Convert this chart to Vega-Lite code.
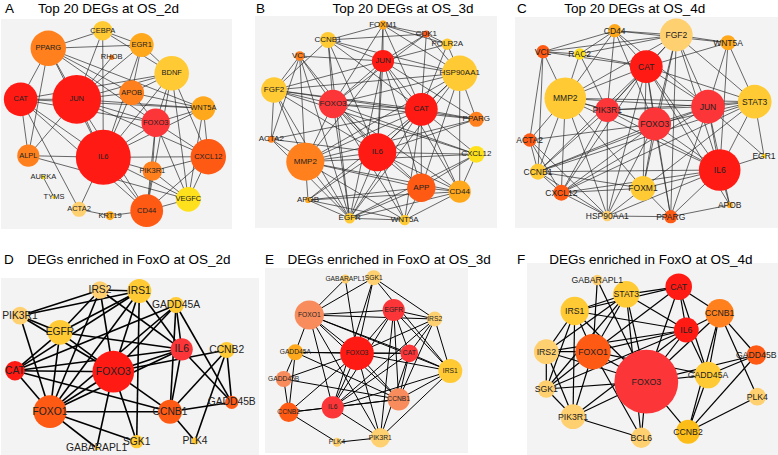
{
"$schema": "https://vega.github.io/schema/vega-lite/v6.json",
"padding": {"left": 1, "top": 0, "right": 0, "bottom": 0},
"background": "white",
"config": {
 "view": {"stroke": null, "fill": "#f3f3f3"},
 "text": {"font": "Liberation Sans"},
 "title": {"font": "Liberation Sans", "fontWeight": "normal", "fontSize": 13.5, "anchor": "start", "frame": "group", "color": "#000"}
},
"datasets": {
 "nA": [
  {"g":"CEBPA","x":101.7,"y":11.7,"d":22,"c":"g"},
  {"g":"PPARG","x":47.3,"y":29.3,"d":40,"c":"o"},
  {"g":"EGR1","x":140.7,"y":26,"d":27,"c":"a"},
  {"g":"RHOB","x":110.7,"y":38.3,"d":6,"c":"o"},
  {"g":"BDNF","x":170.7,"y":54.3,"d":39,"c":"g"},
  {"g":"CAT","x":19.7,"y":80.3,"d":38,"c":"r"},
  {"g":"JUN","x":75.7,"y":80.3,"d":55,"c":"r"},
  {"g":"APOB","x":130.7,"y":73.7,"d":28,"c":"o"},
  {"g":"WNT5A","x":202.3,"y":89.3,"d":27,"c":"a"},
  {"g":"FOXO3","x":154.7,"y":103.7,"d":32,"c":"k"},
  {"g":"ALPL","x":27.3,"y":136.7,"d":25,"c":"o"},
  {"g":"IL6","x":102.3,"y":138.3,"d":62,"c":"r"},
  {"g":"CXCL12","x":207.3,"y":137.7,"d":40,"c":"d"},
  {"g":"PIK3R1","x":151.3,"y":152,"d":22,"c":"o"},
  {"g":"AURKA","x":42.3,"y":158.3,"d":5,"c":"y"},
  {"g":"TYMS","x":53,"y":178.3,"d":4,"c":"y"},
  {"g":"VEGFC","x":187.3,"y":180.3,"d":28,"c":"y"},
  {"g":"ACTA2","x":78,"y":190.3,"d":17,"c":"p"},
  {"g":"KRT19","x":109,"y":196.7,"d":10,"c":"a"},
  {"g":"CD44","x":145.7,"y":191.7,"d":37,"c":"d"}
 ],
 "eA": [
  {"s":"PPARG","t":"CEBPA"},{"s":"PPARG","t":"EGR1"},{"s":"PPARG","t":"JUN"},{"s":"PPARG","t":"CAT"},{"s":"PPARG","t":"ALPL"},{"s":"PPARG","t":"IL6"},{"s":"PPARG","t":"APOB"},{"s":"PPARG","t":"FOXO3"},{"s":"PPARG","t":"WNT5A"},
  {"s":"CEBPA","t":"EGR1"},{"s":"CEBPA","t":"JUN"},{"s":"CEBPA","t":"IL6"},{"s":"CEBPA","t":"BDNF"},
  {"s":"EGR1","t":"JUN"},{"s":"EGR1","t":"APOB"},{"s":"EGR1","t":"IL6"},{"s":"EGR1","t":"BDNF"},
  {"s":"RHOB","t":"JUN"},
  {"s":"BDNF","t":"JUN"},{"s":"BDNF","t":"APOB"},{"s":"BDNF","t":"IL6"},{"s":"BDNF","t":"FOXO3"},{"s":"BDNF","t":"CXCL12"},{"s":"BDNF","t":"VEGFC"},{"s":"BDNF","t":"CD44"},{"s":"BDNF","t":"CAT"},
  {"s":"CAT","t":"JUN"},{"s":"CAT","t":"IL6"},{"s":"CAT","t":"ALPL"},{"s":"CAT","t":"FOXO3"},{"s":"CAT","t":"WNT5A"},{"s":"CAT","t":"CD44"},{"s":"CAT","t":"ACTA2"},
  {"s":"JUN","t":"IL6"},{"s":"JUN","t":"APOB"},{"s":"JUN","t":"FOXO3"},{"s":"JUN","t":"WNT5A"},{"s":"JUN","t":"CXCL12"},{"s":"JUN","t":"ALPL"},{"s":"JUN","t":"CD44"},
  {"s":"APOB","t":"IL6"},{"s":"APOB","t":"FOXO3"},{"s":"APOB","t":"WNT5A"},
  {"s":"WNT5A","t":"FOXO3"},{"s":"WNT5A","t":"CXCL12"},{"s":"WNT5A","t":"VEGFC"},{"s":"WNT5A","t":"IL6"},
  {"s":"FOXO3","t":"IL6"},{"s":"FOXO3","t":"PIK3R1"},{"s":"FOXO3","t":"CXCL12"},{"s":"FOXO3","t":"CD44"},{"s":"FOXO3","t":"VEGFC"},
  {"s":"ALPL","t":"IL6"},{"s":"ALPL","t":"VEGFC"},
  {"s":"IL6","t":"CXCL12"},{"s":"IL6","t":"CD44"},{"s":"IL6","t":"VEGFC"},{"s":"IL6","t":"ACTA2"},{"s":"IL6","t":"PIK3R1"},
  {"s":"CXCL12","t":"CD44"},{"s":"CXCL12","t":"VEGFC"},{"s":"CXCL12","t":"PIK3R1"},
  {"s":"PIK3R1","t":"CD44"},{"s":"PIK3R1","t":"VEGFC"},
  {"s":"AURKA","t":"TYMS"},{"s":"ACTA2","t":"KRT19"},{"s":"KRT19","t":"CD44"},{"s":"CD44","t":"VEGFC"}
 ],
 "nB": [
  {"g":"FOXM1","x":128,"y":9,"d":10,"c":"a"},
  {"g":"CDK1","x":171.3,"y":18,"d":8,"c":"d"},
  {"g":"POLR2A","x":192.3,"y":28.3,"d":13,"c":"g"},
  {"g":"CCNB1","x":73,"y":24,"d":18,"c":"g"},
  {"g":"VCL","x":44.7,"y":40,"d":11,"c":"o"},
  {"g":"JUN","x":128,"y":45,"d":25,"c":"r"},
  {"g":"HSP90AA1","x":204.7,"y":57.3,"d":40,"c":"g"},
  {"g":"FGF2","x":19,"y":74,"d":29,"c":"g"},
  {"g":"FOXO3","x":78,"y":88,"d":32,"c":"k"},
  {"g":"CAT","x":166.3,"y":93.3,"d":37,"c":"r"},
  {"g":"PPARG","x":221.3,"y":103.3,"d":17,"c":"o"},
  {"g":"ACTA2","x":16.3,"y":123.3,"d":8,"c":"o"},
  {"g":"IL6","x":122.3,"y":136.3,"d":43,"c":"r"},
  {"g":"CXCL12","x":221.3,"y":138.3,"d":19,"c":"y"},
  {"g":"MMP2","x":50.3,"y":145.7,"d":43,"c":"o"},
  {"g":"APP","x":166.3,"y":171.7,"d":32,"c":"d"},
  {"g":"CD44","x":204.7,"y":175.7,"d":25,"c":"a"},
  {"g":"APOB","x":53,"y":184,"d":7,"c":"a"},
  {"g":"EGFR","x":94.7,"y":202.3,"d":12,"c":"g"},
  {"g":"WNT5A","x":149.7,"y":204,"d":12,"c":"g"}
 ],
 "eB": [
  {"s":"IL6","t":"JUN"},{"s":"IL6","t":"CAT"},{"s":"IL6","t":"FOXO3"},{"s":"IL6","t":"MMP2"},{"s":"IL6","t":"APP"},{"s":"IL6","t":"EGFR"},{"s":"IL6","t":"WNT5A"},{"s":"IL6","t":"CD44"},{"s":"IL6","t":"CXCL12"},{"s":"IL6","t":"PPARG"},{"s":"IL6","t":"HSP90AA1"},{"s":"IL6","t":"FGF2"},{"s":"IL6","t":"CCNB1"},{"s":"IL6","t":"FOXM1"},{"s":"IL6","t":"VCL"},{"s":"IL6","t":"ACTA2"},{"s":"IL6","t":"APOB"},
  {"s":"CAT","t":"JUN"},{"s":"CAT","t":"FOXO3"},{"s":"CAT","t":"HSP90AA1"},{"s":"CAT","t":"PPARG"},{"s":"CAT","t":"CXCL12"},{"s":"CAT","t":"APP"},{"s":"CAT","t":"CD44"},{"s":"CAT","t":"MMP2"},{"s":"CAT","t":"EGFR"},{"s":"CAT","t":"WNT5A"},{"s":"CAT","t":"FGF2"},{"s":"CAT","t":"CCNB1"},{"s":"CAT","t":"FOXM1"},{"s":"CAT","t":"CDK1"},{"s":"CAT","t":"POLR2A"},{"s":"CAT","t":"APOB"},{"s":"CAT","t":"ACTA2"},
  {"s":"JUN","t":"FOXO3"},{"s":"JUN","t":"HSP90AA1"},{"s":"JUN","t":"FOXM1"},{"s":"JUN","t":"CDK1"},{"s":"JUN","t":"CCNB1"},{"s":"JUN","t":"FGF2"},{"s":"JUN","t":"MMP2"},{"s":"JUN","t":"APP"},{"s":"JUN","t":"EGFR"},{"s":"JUN","t":"CD44"},{"s":"JUN","t":"PPARG"},{"s":"JUN","t":"VCL"},{"s":"JUN","t":"POLR2A"},
  {"s":"FOXO3","t":"CCNB1"},{"s":"FOXO3","t":"FGF2"},{"s":"FOXO3","t":"MMP2"},{"s":"FOXO3","t":"HSP90AA1"},{"s":"FOXO3","t":"CXCL12"},{"s":"FOXO3","t":"PPARG"},{"s":"FOXO3","t":"APP"},{"s":"FOXO3","t":"EGFR"},{"s":"FOXO3","t":"WNT5A"},{"s":"FOXO3","t":"CD44"},{"s":"FOXO3","t":"FOXM1"},{"s":"FOXO3","t":"CDK1"},{"s":"FOXO3","t":"VCL"},
  {"s":"HSP90AA1","t":"FOXM1"},{"s":"HSP90AA1","t":"CDK1"},{"s":"HSP90AA1","t":"POLR2A"},{"s":"HSP90AA1","t":"FGF2"},{"s":"HSP90AA1","t":"PPARG"},{"s":"HSP90AA1","t":"CD44"},{"s":"HSP90AA1","t":"EGFR"},{"s":"HSP90AA1","t":"MMP2"},{"s":"HSP90AA1","t":"APP"},{"s":"HSP90AA1","t":"CCNB1"},
  {"s":"MMP2","t":"FGF2"},{"s":"MMP2","t":"ACTA2"},{"s":"MMP2","t":"VCL"},{"s":"MMP2","t":"APOB"},{"s":"MMP2","t":"EGFR"},{"s":"MMP2","t":"WNT5A"},{"s":"MMP2","t":"APP"},{"s":"MMP2","t":"CD44"},{"s":"MMP2","t":"CXCL12"},{"s":"MMP2","t":"PPARG"},
  {"s":"FGF2","t":"CCNB1"},{"s":"FGF2","t":"VCL"},{"s":"FGF2","t":"ACTA2"},{"s":"FGF2","t":"EGFR"},{"s":"FGF2","t":"CXCL12"},{"s":"FGF2","t":"PPARG"},
  {"s":"EGFR","t":"APOB"},{"s":"EGFR","t":"ACTA2"},{"s":"EGFR","t":"WNT5A"},{"s":"EGFR","t":"APP"},{"s":"EGFR","t":"CD44"},{"s":"EGFR","t":"CXCL12"},{"s":"EGFR","t":"VCL"},{"s":"EGFR","t":"CCNB1"},
  {"s":"APP","t":"WNT5A"},{"s":"APP","t":"CD44"},{"s":"APP","t":"CXCL12"},{"s":"APP","t":"APOB"},
  {"s":"CD44","t":"CXCL12"},{"s":"CD44","t":"WNT5A"},
  {"s":"CCNB1","t":"FOXM1"},{"s":"CCNB1","t":"CDK1"},{"s":"FOXM1","t":"CDK1"},{"s":"FOXM1","t":"POLR2A"},{"s":"CDK1","t":"POLR2A"},
  {"s":"APOB","t":"WNT5A"},{"s":"APOB","t":"CD44"},{"s":"VCL","t":"ACTA2"}
 ],
 "nC": [
  {"g":"CD44","x":99.7,"y":13.7,"d":15,"c":"a"},
  {"g":"FGF2","x":161.3,"y":18,"d":37,"c":"p"},
  {"g":"WNT5A","x":213,"y":25.7,"d":17,"c":"a"},
  {"g":"VCL","x":28,"y":34.7,"d":15,"c":"d"},
  {"g":"RAC2","x":64.7,"y":37,"d":13,"c":"y"},
  {"g":"CAT","x":131.3,"y":49.7,"d":37,"c":"r"},
  {"g":"MMP2","x":50.3,"y":81.3,"d":47,"c":"g"},
  {"g":"PIK3R1","x":92.3,"y":93,"d":27,"c":"k"},
  {"g":"JUN","x":193,"y":89.7,"d":38,"c":"k"},
  {"g":"STAT3","x":239.7,"y":84.7,"d":38,"c":"g"},
  {"g":"FOXO3","x":139.7,"y":107,"d":37,"c":"k"},
  {"g":"ACTA2","x":14.7,"y":123,"d":15,"c":"d"},
  {"g":"IL6","x":204.7,"y":153,"d":47,"c":"r"},
  {"g":"EGR1","x":249,"y":139,"d":5,"c":"y"},
  {"g":"CCNB1","x":23,"y":154.7,"d":18,"c":"g"},
  {"g":"FOXM1","x":128,"y":171.3,"d":28,"c":"g"},
  {"g":"CXCL12","x":46.3,"y":175.7,"d":18,"c":"d"},
  {"g":"APOB","x":214.7,"y":188,"d":7,"c":"a"},
  {"g":"HSP90AA1","x":92.3,"y":199,"d":12,"c":"p"},
  {"g":"PPARG","x":155.7,"y":199.7,"d":15,"c":"d"}
 ],
 "eC": [
  {"s":"CAT","t":"CD44"},{"s":"CAT","t":"FGF2"},{"s":"CAT","t":"VCL"},{"s":"CAT","t":"RAC2"},{"s":"CAT","t":"MMP2"},{"s":"CAT","t":"PIK3R1"},{"s":"CAT","t":"JUN"},{"s":"CAT","t":"STAT3"},{"s":"CAT","t":"FOXO3"},{"s":"CAT","t":"IL6"},{"s":"CAT","t":"FOXM1"},{"s":"CAT","t":"PPARG"},{"s":"CAT","t":"HSP90AA1"},{"s":"CAT","t":"CCNB1"},{"s":"CAT","t":"CXCL12"},{"s":"CAT","t":"WNT5A"},{"s":"CAT","t":"APOB"},
  {"s":"IL6","t":"JUN"},{"s":"IL6","t":"STAT3"},{"s":"IL6","t":"FOXO3"},{"s":"IL6","t":"PIK3R1"},{"s":"IL6","t":"MMP2"},{"s":"IL6","t":"FGF2"},{"s":"IL6","t":"WNT5A"},{"s":"IL6","t":"EGR1"},{"s":"IL6","t":"APOB"},{"s":"IL6","t":"PPARG"},{"s":"IL6","t":"FOXM1"},{"s":"IL6","t":"CXCL12"},{"s":"IL6","t":"CCNB1"},{"s":"IL6","t":"HSP90AA1"},
  {"s":"JUN","t":"FGF2"},{"s":"JUN","t":"STAT3"},{"s":"JUN","t":"FOXO3"},{"s":"JUN","t":"PIK3R1"},{"s":"JUN","t":"MMP2"},{"s":"JUN","t":"CD44"},{"s":"JUN","t":"WNT5A"},{"s":"JUN","t":"EGR1"},{"s":"JUN","t":"CCNB1"},{"s":"JUN","t":"CXCL12"},{"s":"JUN","t":"PPARG"},{"s":"JUN","t":"APOB"},
  {"s":"FOXO3","t":"PIK3R1"},{"s":"FOXO3","t":"MMP2"},{"s":"FOXO3","t":"FGF2"},{"s":"FOXO3","t":"STAT3"},{"s":"FOXO3","t":"CCNB1"},{"s":"FOXO3","t":"CXCL12"},{"s":"FOXO3","t":"FOXM1"},{"s":"FOXO3","t":"HSP90AA1"},{"s":"FOXO3","t":"PPARG"},{"s":"FOXO3","t":"CD44"},{"s":"FOXO3","t":"ACTA2"},
  {"s":"MMP2","t":"CD44"},{"s":"MMP2","t":"VCL"},{"s":"MMP2","t":"RAC2"},{"s":"MMP2","t":"FGF2"},{"s":"MMP2","t":"PIK3R1"},{"s":"MMP2","t":"ACTA2"},{"s":"MMP2","t":"CCNB1"},{"s":"MMP2","t":"CXCL12"},{"s":"MMP2","t":"HSP90AA1"},{"s":"MMP2","t":"FOXM1"},{"s":"MMP2","t":"STAT3"},
  {"s":"PIK3R1","t":"CD44"},{"s":"PIK3R1","t":"FGF2"},{"s":"PIK3R1","t":"RAC2"},{"s":"PIK3R1","t":"HSP90AA1"},{"s":"PIK3R1","t":"CCNB1"},{"s":"PIK3R1","t":"CXCL12"},{"s":"PIK3R1","t":"STAT3"},
  {"s":"STAT3","t":"FGF2"},{"s":"STAT3","t":"WNT5A"},{"s":"STAT3","t":"EGR1"},{"s":"STAT3","t":"CCNB1"},{"s":"STAT3","t":"CXCL12"},{"s":"STAT3","t":"FOXM1"},
  {"s":"FGF2","t":"CD44"},{"s":"FGF2","t":"WNT5A"},{"s":"FGF2","t":"VCL"},{"s":"FGF2","t":"RAC2"},{"s":"FGF2","t":"PPARG"},{"s":"FGF2","t":"FOXM1"},
  {"s":"VCL","t":"CD44"},{"s":"VCL","t":"RAC2"},{"s":"VCL","t":"ACTA2"},{"s":"VCL","t":"CCNB1"},
  {"s":"CD44","t":"WNT5A"},{"s":"CD44","t":"RAC2"},
  {"s":"ACTA2","t":"CCNB1"},{"s":"ACTA2","t":"CXCL12"},{"s":"ACTA2","t":"HSP90AA1"},
  {"s":"CCNB1","t":"CXCL12"},{"s":"CCNB1","t":"HSP90AA1"},{"s":"CCNB1","t":"FOXM1"},
  {"s":"CXCL12","t":"HSP90AA1"},{"s":"CXCL12","t":"FOXM1"},
  {"s":"FOXM1","t":"HSP90AA1"},{"s":"FOXM1","t":"PPARG"},
  {"s":"PPARG","t":"APOB"},{"s":"PPARG","t":"HSP90AA1"}
 ],
 "nD": [
  {"g":"IRS2","x":99,"y":12,"d":20,"c":"p"},
  {"g":"IRS1","x":138.3,"y":13,"d":27,"c":"g"},
  {"g":"GADD45A","x":175,"y":27,"d":18,"c":"g"},
  {"g":"PIK3R1","x":19,"y":37.7,"d":20,"c":"p"},
  {"g":"EGFR","x":59,"y":54.3,"d":28,"c":"g"},
  {"g":"IL6","x":180.7,"y":71.3,"d":25,"c":"k"},
  {"g":"CCNB2","x":225.7,"y":72,"d":18,"c":"g"},
  {"g":"CAT","x":14,"y":92.7,"d":22,"c":"r"},
  {"g":"FOXO3","x":112.3,"y":93.7,"d":47,"c":"r"},
  {"g":"GADD45B","x":230.7,"y":124.3,"d":15,"c":"d"},
  {"g":"FOXO1","x":49,"y":133.7,"d":37,"c":"d"},
  {"g":"CCNB1","x":169,"y":133.7,"d":27,"c":"d"},
  {"g":"SGK1","x":135.7,"y":163.7,"d":15,"c":"g"},
  {"g":"PLK4","x":194,"y":163,"d":8,"c":"g"},
  {"g":"GABARAPL1","x":95.7,"y":170,"d":5,"c":"g"}
 ],
 "eD": [
  {"s":"IRS2","t":"IRS1"},{"s":"IRS2","t":"PIK3R1"},{"s":"IRS2","t":"EGFR"},{"s":"IRS2","t":"FOXO3"},{"s":"IRS2","t":"FOXO1"},{"s":"IRS2","t":"IL6"},
  {"s":"IRS1","t":"PIK3R1"},{"s":"IRS1","t":"EGFR"},{"s":"IRS1","t":"FOXO3"},{"s":"IRS1","t":"FOXO1"},{"s":"IRS1","t":"SGK1"},{"s":"IRS1","t":"CAT"},{"s":"IRS1","t":"IL6"},
  {"s":"GADD45A","t":"FOXO3"},{"s":"GADD45A","t":"FOXO1"},{"s":"GADD45A","t":"CCNB1"},{"s":"GADD45A","t":"GADD45B"},{"s":"GADD45A","t":"CAT"},{"s":"GADD45A","t":"IL6"},
  {"s":"PIK3R1","t":"EGFR"},{"s":"PIK3R1","t":"FOXO3"},{"s":"PIK3R1","t":"FOXO1"},
  {"s":"EGFR","t":"IL6"},{"s":"EGFR","t":"FOXO3"},{"s":"EGFR","t":"FOXO1"},{"s":"EGFR","t":"CAT"},
  {"s":"IL6","t":"FOXO3"},{"s":"IL6","t":"FOXO1"},{"s":"IL6","t":"CCNB1"},{"s":"IL6","t":"GADD45B"},{"s":"IL6","t":"CAT"},
  {"s":"CCNB2","t":"FOXO3"},{"s":"CCNB2","t":"CCNB1"},{"s":"CCNB2","t":"GADD45B"},{"s":"CCNB2","t":"PLK4"},
  {"s":"CAT","t":"FOXO3"},{"s":"CAT","t":"FOXO1"},{"s":"CAT","t":"CCNB1"},
  {"s":"FOXO3","t":"FOXO1"},{"s":"FOXO3","t":"SGK1"},{"s":"FOXO3","t":"CCNB1"},{"s":"FOXO3","t":"GABARAPL1"},
  {"s":"FOXO1","t":"SGK1"},{"s":"FOXO1","t":"GABARAPL1"},{"s":"FOXO1","t":"CCNB1"},
  {"s":"CCNB1","t":"GADD45B"},{"s":"CCNB1","t":"PLK4"}
 ],
 "nE": [
  {"g":"GABARAPL1","x":80.3,"y":11,"d":10,"c":"p"},
  {"g":"SGK1","x":108.7,"y":9.7,"d":17,"c":"p"},
  {"g":"EGFR","x":128.7,"y":42,"d":25,"c":"k"},
  {"g":"FOXO1","x":44.3,"y":47,"d":33,"c":"s"},
  {"g":"IRS2","x":169.7,"y":51,"d":17,"c":"p"},
  {"g":"GADD45A","x":30.3,"y":84.3,"d":18,"c":"a"},
  {"g":"FOXO3","x":92,"y":85.3,"d":38,"c":"r"},
  {"g":"CAT","x":144.3,"y":85.3,"d":20,"c":"k"},
  {"g":"IRS1","x":185.3,"y":103,"d":27,"c":"g"},
  {"g":"GADD45B","x":18.7,"y":111,"d":18,"c":"s"},
  {"g":"CCNB1","x":133.7,"y":131.3,"d":25,"c":"s"},
  {"g":"IL6","x":67.7,"y":139.3,"d":25,"c":"k"},
  {"g":"CCNB2","x":23.7,"y":144.3,"d":22,"c":"d"},
  {"g":"PIK3R1","x":115.3,"y":169.7,"d":22,"c":"p"},
  {"g":"PLK4","x":72,"y":174.3,"d":10,"c":"p"}
 ],
 "eE": [
  {"s":"GABARAPL1","t":"FOXO3"},{"s":"GABARAPL1","t":"FOXO1"},
  {"s":"SGK1","t":"FOXO3"},{"s":"SGK1","t":"FOXO1"},{"s":"SGK1","t":"IRS1"},{"s":"SGK1","t":"IL6"},{"s":"SGK1","t":"IRS2"},
  {"s":"EGFR","t":"FOXO1"},{"s":"EGFR","t":"FOXO3"},{"s":"EGFR","t":"IRS2"},{"s":"EGFR","t":"IRS1"},{"s":"EGFR","t":"CAT"},{"s":"EGFR","t":"IL6"},{"s":"EGFR","t":"CCNB1"},{"s":"EGFR","t":"PIK3R1"},
  {"s":"FOXO1","t":"FOXO3"},{"s":"FOXO1","t":"IRS2"},{"s":"FOXO1","t":"CAT"},{"s":"FOXO1","t":"IRS1"},{"s":"FOXO1","t":"GADD45A"},{"s":"FOXO1","t":"IL6"},{"s":"FOXO1","t":"CCNB1"},{"s":"FOXO1","t":"PIK3R1"},
  {"s":"IRS2","t":"CAT"},{"s":"IRS2","t":"IRS1"},{"s":"IRS2","t":"FOXO3"},{"s":"IRS2","t":"CCNB1"},{"s":"IRS2","t":"IL6"},
  {"s":"GADD45A","t":"FOXO3"},{"s":"GADD45A","t":"CAT"},{"s":"GADD45A","t":"GADD45B"},{"s":"GADD45A","t":"CCNB2"},{"s":"GADD45A","t":"CCNB1"},
  {"s":"FOXO3","t":"CAT"},{"s":"FOXO3","t":"IRS1"},{"s":"FOXO3","t":"IL6"},{"s":"FOXO3","t":"CCNB1"},{"s":"FOXO3","t":"PIK3R1"},{"s":"FOXO3","t":"GADD45B"},{"s":"FOXO3","t":"CCNB2"},
  {"s":"CAT","t":"IRS1"},{"s":"CAT","t":"IL6"},{"s":"CAT","t":"CCNB1"},{"s":"CAT","t":"PIK3R1"},
  {"s":"IRS1","t":"CCNB1"},{"s":"IRS1","t":"PIK3R1"},{"s":"IRS1","t":"IL6"},
  {"s":"GADD45B","t":"CCNB2"},{"s":"GADD45B","t":"CCNB1"},
  {"s":"CCNB1","t":"IL6"},{"s":"CCNB1","t":"CCNB2"},
  {"s":"IL6","t":"CCNB2"},{"s":"IL6","t":"PIK3R1"},
  {"s":"CCNB2","t":"PLK4"},{"s":"PLK4","t":"PIK3R1"}
 ],
 "nF": [
  {"g":"GABARAPL1","x":70.3,"y":17,"d":12,"c":"p"},
  {"g":"STAT3","x":99.3,"y":31.3,"d":30,"c":"g"},
  {"g":"CAT","x":151.7,"y":23.7,"d":30,"c":"r"},
  {"g":"IRS1","x":47.7,"y":48,"d":32,"c":"g"},
  {"g":"CCNB1","x":192.7,"y":50.3,"d":32,"c":"o"},
  {"g":"IL6","x":159.3,"y":67,"d":28,"c":"r"},
  {"g":"IRS2","x":19.3,"y":88.7,"d":28,"c":"p"},
  {"g":"FOXO1","x":66,"y":88.7,"d":40,"c":"d"},
  {"g":"GADD45B","x":229.3,"y":92,"d":22,"c":"d"},
  {"g":"FOXO3","x":119.3,"y":118.7,"d":72,"c":"k"},
  {"g":"GADD45A","x":181,"y":112,"d":30,"c":"g"},
  {"g":"SGK1","x":19.3,"y":126,"d":20,"c":"p"},
  {"g":"PLK4","x":230.3,"y":133.7,"d":20,"c":"p"},
  {"g":"PIK3R1","x":46,"y":153.7,"d":28,"c":"p"},
  {"g":"CCNB2","x":161,"y":168.7,"d":27,"c":"m"},
  {"g":"BCL6","x":114.3,"y":174.7,"d":23,"c":"p"}
 ],
 "eF": [
  {"s":"GABARAPL1","t":"FOXO1"},{"s":"GABARAPL1","t":"FOXO3"},
  {"s":"STAT3","t":"CAT"},{"s":"STAT3","t":"IRS1"},{"s":"STAT3","t":"FOXO1"},{"s":"STAT3","t":"FOXO3"},{"s":"STAT3","t":"IL6"},{"s":"STAT3","t":"BCL6"},{"s":"STAT3","t":"IRS2"},{"s":"STAT3","t":"SGK1"},
  {"s":"CAT","t":"IL6"},{"s":"CAT","t":"CCNB1"},{"s":"CAT","t":"FOXO3"},{"s":"CAT","t":"GADD45A"},{"s":"CAT","t":"IRS1"},{"s":"CAT","t":"FOXO1"},
  {"s":"IRS1","t":"IL6"},{"s":"IRS1","t":"FOXO1"},{"s":"IRS1","t":"FOXO3"},{"s":"IRS1","t":"IRS2"},{"s":"IRS1","t":"SGK1"},{"s":"IRS1","t":"PIK3R1"},
  {"s":"CCNB1","t":"IL6"},{"s":"CCNB1","t":"FOXO3"},{"s":"CCNB1","t":"GADD45B"},{"s":"CCNB1","t":"GADD45A"},{"s":"CCNB1","t":"CCNB2"},{"s":"CCNB1","t":"PLK4"},
  {"s":"IL6","t":"FOXO1"},{"s":"IL6","t":"FOXO3"},{"s":"IL6","t":"GADD45A"},{"s":"IL6","t":"IRS2"},{"s":"IL6","t":"SGK1"},{"s":"IL6","t":"PIK3R1"},
  {"s":"IRS2","t":"FOXO1"},{"s":"IRS2","t":"FOXO3"},{"s":"IRS2","t":"SGK1"},{"s":"IRS2","t":"PIK3R1"},
  {"s":"FOXO1","t":"FOXO3"},{"s":"FOXO1","t":"SGK1"},{"s":"FOXO1","t":"PIK3R1"},{"s":"FOXO1","t":"BCL6"},{"s":"FOXO1","t":"GADD45A"},
  {"s":"GADD45B","t":"GADD45A"},{"s":"GADD45B","t":"CCNB2"},{"s":"GADD45B","t":"FOXO3"},
  {"s":"FOXO3","t":"GADD45A"},{"s":"FOXO3","t":"SGK1"},{"s":"FOXO3","t":"PIK3R1"},{"s":"FOXO3","t":"BCL6"},{"s":"FOXO3","t":"CCNB2"},
  {"s":"GADD45A","t":"CCNB2"},{"s":"SGK1","t":"PIK3R1"},{"s":"PLK4","t":"CCNB2"},{"s":"PIK3R1","t":"BCL6"}
 ]
},
"spacing": 22,
"vconcat": [
 {"spacing": 23, "hconcat": [
  {"spacing": 0, "vconcat": [
   {"width": 1, "height": 1, "data": {"values": []}, "mark": "point", "view": {"fill": "white", "stroke": null}},
   {"width": 231, "height": 210,
   "title": {"text": "A\u2002\u2002\u2002\u00a0Top 20 DEGs at OS_2d", "offset": 4, "dx": 4},
   "encoding": {"x": {"field": "x", "type": "quantitative", "scale": {"domain": [0, 231], "nice": false, "zero": false}, "axis": null},
                "y": {"field": "y", "type": "quantitative", "scale": {"domain": [0, 210], "nice": false, "zero": false, "reverse": true}, "axis": null}},
   "layer": [
    {"data": {"name": "eA"}, "transform": [{"lookup": "s", "from": {"data": {"name": "nA"}, "key": "g", "fields": ["x", "y"]}, "as": ["x", "y"]}, {"lookup": "t", "from": {"data": {"name": "nA"}, "key": "g", "fields": ["x", "y"]}, "as": ["x2", "y2"]}],
     "mark": {"type": "rule", "stroke": "#2a2a2a", "strokeWidth": 0.7, "clip": true}, "encoding": {"x2": {"field": "x2"}, "y2": {"field": "y2"}}},
    {"data": {"name": "nA"}, "mark": {"type": "circle", "opacity": 1, "clip": true},
     "encoding": {"size": {"field": "d", "type": "quantitative", "scale": {"type": "pow", "exponent": 2, "domain": [0, 100], "range": [0, 7854]}, "legend": null},
                  "color": {"field": "c", "type": "nominal", "scale": {"domain": ["y","g","p","a","m","o","d","r","k","s"], "range": ["#ffe01c","#ffca33","#ffd070","#ffa81c","#fdbd18","#ff801c","#ff5a14","#ff1a14","#fb3538","#f98c5c"]}, "legend": null}}},
    {"data": {"name": "nA"}, "mark": {"type": "text", "fontSize": 7.5, "color": "#222"}, "encoding": {"text": {"field": "g"}}}
   ]}]},
  {"spacing": 18, "hconcat": [
   {"spacing": 0, "vconcat": [
    {"width": 1, "height": 1, "data": {"values": []}, "mark": "point", "view": {"fill": "white", "stroke": null}},
    {"width": 242, "height": 212,
    "title": {"text": "B\u2002\u2002\u2002\u2002\u2002\u2002\u2002\u2002\u2002\u2002Top 20 DEGs at OS_3d", "offset": 1, "dx": 1},
    "encoding": {"x": {"field": "x", "type": "quantitative", "scale": {"domain": [0, 242], "nice": false, "zero": false}, "axis": null},
                 "y": {"field": "y", "type": "quantitative", "scale": {"domain": [0, 212], "nice": false, "zero": false, "reverse": true}, "axis": null}},
    "layer": [
     {"data": {"name": "eB"}, "transform": [{"lookup": "s", "from": {"data": {"name": "nB"}, "key": "g", "fields": ["x", "y"]}, "as": ["x", "y"]}, {"lookup": "t", "from": {"data": {"name": "nB"}, "key": "g", "fields": ["x", "y"]}, "as": ["x2", "y2"]}],
      "mark": {"type": "rule", "stroke": "#2a2a2a", "strokeWidth": 0.7, "clip": true}, "encoding": {"x2": {"field": "x2"}, "y2": {"field": "y2"}}},
     {"data": {"name": "nB"}, "mark": {"type": "circle", "opacity": 1, "clip": true},
      "encoding": {"size": {"field": "d", "type": "quantitative", "scale": {"type": "pow", "exponent": 2, "domain": [0, 100], "range": [0, 7854]}, "legend": null},
                   "color": {"field": "c", "type": "nominal", "scale": {"domain": ["y","g","p","a","m","o","d","r","k","s"], "range": ["#ffe01c","#ffca33","#ffd070","#ffa81c","#fdbd18","#ff801c","#ff5a14","#ff1a14","#fb3538","#f98c5c"]}, "legend": null}}},
     {"data": {"name": "nB"}, "mark": {"type": "text", "fontSize": 8, "color": "#222"}, "encoding": {"text": {"field": "g"}}}
    ]}]},
   {"spacing": 0, "vconcat": [
    {"width": 1, "height": 1, "data": {"values": []}, "mark": "point", "view": {"fill": "white", "stroke": null}},
    {"width": 263, "height": 211,
    "title": {"text": "C\u2002\u2002\u2002\u2002\u2002\u00a0Top 20 DEGs at OS_4d", "offset": 2, "dx": 2},
    "encoding": {"x": {"field": "x", "type": "quantitative", "scale": {"domain": [0, 263], "nice": false, "zero": false}, "axis": null},
                 "y": {"field": "y", "type": "quantitative", "scale": {"domain": [0, 211], "nice": false, "zero": false, "reverse": true}, "axis": null}},
    "layer": [
     {"data": {"name": "eC"}, "transform": [{"lookup": "s", "from": {"data": {"name": "nC"}, "key": "g", "fields": ["x", "y"]}, "as": ["x", "y"]}, {"lookup": "t", "from": {"data": {"name": "nC"}, "key": "g", "fields": ["x", "y"]}, "as": ["x2", "y2"]}],
      "mark": {"type": "rule", "stroke": "#2a2a2a", "strokeWidth": 0.7, "clip": true}, "encoding": {"x2": {"field": "x2"}, "y2": {"field": "y2"}}},
     {"data": {"name": "nC"}, "mark": {"type": "circle", "opacity": 1, "clip": true},
      "encoding": {"size": {"field": "d", "type": "quantitative", "scale": {"type": "pow", "exponent": 2, "domain": [0, 100], "range": [0, 7854]}, "legend": null},
                   "color": {"field": "c", "type": "nominal", "scale": {"domain": ["y","g","p","a","m","o","d","r","k","s"], "range": ["#ffe01c","#ffca33","#ffd070","#ffa81c","#fdbd18","#ff801c","#ff5a14","#ff1a14","#fb3538","#f98c5c"]}, "legend": null}}},
     {"data": {"name": "nC"}, "mark": {"type": "text", "fontSize": 8.5, "color": "#222"}, "encoding": {"text": {"field": "g"}}}
    ]}]}
  ]}
 ]},
 {"spacing": 6, "hconcat": [
  {"spacing": 0, "vconcat": [
   {"width": 1, "height": 1, "data": {"values": []}, "mark": "point", "view": {"fill": "white", "stroke": null}},
   {"width": 258, "height": 177,
   "title": {"text": "D\u2002\u2002DEGs enriched in FoxO at OS_2d", "offset": 12, "dx": 3},
   "encoding": {"x": {"field": "x", "type": "quantitative", "scale": {"domain": [0, 258], "nice": false, "zero": false}, "axis": null},
                "y": {"field": "y", "type": "quantitative", "scale": {"domain": [0, 177], "nice": false, "zero": false, "reverse": true}, "axis": null}},
   "layer": [
    {"data": {"name": "eD"}, "transform": [{"lookup": "s", "from": {"data": {"name": "nD"}, "key": "g", "fields": ["x", "y"]}, "as": ["x", "y"]}, {"lookup": "t", "from": {"data": {"name": "nD"}, "key": "g", "fields": ["x", "y"]}, "as": ["x2", "y2"]}],
     "mark": {"type": "rule", "stroke": "#000", "strokeWidth": 1.6, "clip": true}, "encoding": {"x2": {"field": "x2"}, "y2": {"field": "y2"}}},
    {"data": {"name": "nD"}, "mark": {"type": "circle", "opacity": 1, "clip": true},
     "encoding": {"size": {"field": "d", "type": "quantitative", "scale": {"type": "pow", "exponent": 2, "domain": [0, 100], "range": [0, 7854]}, "legend": null},
                  "color": {"field": "c", "type": "nominal", "scale": {"domain": ["y","g","p","a","m","o","d","r","k","s"], "range": ["#ffe01c","#ffca33","#ffd070","#ffa81c","#fdbd18","#ff801c","#ff5a14","#ff1a14","#fb3538","#f98c5c"]}, "legend": null}}},
    {"data": {"name": "nD"}, "mark": {"type": "text", "fontSize": 10.3, "color": "#222"}, "encoding": {"text": {"field": "g"}}}
   ]}]},
  {"spacing": 26, "hconcat": [
   {"spacing": 0, "vconcat": [
    {"width": 1, "height": 1, "data": {"values": []}, "mark": "point", "view": {"fill": "white", "stroke": null}},
    {"width": 203, "height": 185,
    "title": {"text": "E\u2002\u2002DEGs enriched in FoxO at OS_3d", "offset": 2, "dx": 0},
    "encoding": {"x": {"field": "x", "type": "quantitative", "scale": {"domain": [0, 203], "nice": false, "zero": false}, "axis": null},
                 "y": {"field": "y", "type": "quantitative", "scale": {"domain": [0, 185], "nice": false, "zero": false, "reverse": true}, "axis": null}},
    "layer": [
     {"data": {"name": "eE"}, "transform": [{"lookup": "s", "from": {"data": {"name": "nE"}, "key": "g", "fields": ["x", "y"]}, "as": ["x", "y"]}, {"lookup": "t", "from": {"data": {"name": "nE"}, "key": "g", "fields": ["x", "y"]}, "as": ["x2", "y2"]}],
      "mark": {"type": "rule", "stroke": "#000", "strokeWidth": 1, "clip": true}, "encoding": {"x2": {"field": "x2"}, "y2": {"field": "y2"}}},
     {"data": {"name": "nE"}, "mark": {"type": "circle", "opacity": 1, "clip": true},
      "encoding": {"size": {"field": "d", "type": "quantitative", "scale": {"type": "pow", "exponent": 2, "domain": [0, 100], "range": [0, 7854]}, "legend": null},
                   "color": {"field": "c", "type": "nominal", "scale": {"domain": ["y","g","p","a","m","o","d","r","k","s"], "range": ["#ffe01c","#ffca33","#ffd070","#ffa81c","#fdbd18","#ff801c","#ff5a14","#ff1a14","#fb3538","#f98c5c"]}, "legend": null}}},
     {"data": {"name": "nE"}, "mark": {"type": "text", "fontSize": 6.7, "color": "#222"}, "encoding": {"text": {"field": "g"}}}
    ]}]},
   {"spacing": 0, "vconcat": [
    {"width": 1, "height": 1, "data": {"values": []}, "mark": "point", "view": {"fill": "white", "stroke": null}},
    {"width": 251, "height": 192,
    "title": {"text": "F\u2002\u2002\u2002\u00a0DEGs enriched in FoxO at OS_4d", "offset": -3, "dx": -10},
    "encoding": {"x": {"field": "x", "type": "quantitative", "scale": {"domain": [0, 251], "nice": false, "zero": false}, "axis": null},
                 "y": {"field": "y", "type": "quantitative", "scale": {"domain": [0, 192], "nice": false, "zero": false, "reverse": true}, "axis": null}},
    "layer": [
     {"data": {"name": "eF"}, "transform": [{"lookup": "s", "from": {"data": {"name": "nF"}, "key": "g", "fields": ["x", "y"]}, "as": ["x", "y"]}, {"lookup": "t", "from": {"data": {"name": "nF"}, "key": "g", "fields": ["x", "y"]}, "as": ["x2", "y2"]}],
      "mark": {"type": "rule", "stroke": "#000", "strokeWidth": 1.2, "clip": true}, "encoding": {"x2": {"field": "x2"}, "y2": {"field": "y2"}}},
     {"data": {"name": "nF"}, "mark": {"type": "circle", "opacity": 1, "clip": true},
      "encoding": {"size": {"field": "d", "type": "quantitative", "scale": {"type": "pow", "exponent": 2, "domain": [0, 100], "range": [0, 7854]}, "legend": null},
                   "color": {"field": "c", "type": "nominal", "scale": {"domain": ["y","g","p","a","m","o","d","r","k","s"], "range": ["#ffe01c","#ffca33","#ffd070","#ffa81c","#fdbd18","#ff801c","#ff5a14","#ff1a14","#fb3538","#f98c5c"]}, "legend": null}}},
     {"data": {"name": "nF"}, "mark": {"type": "text", "fontSize": 8.7, "color": "#222"}, "encoding": {"text": {"field": "g"}}}
    ]}]}
  ]}
 ]}
]
}
